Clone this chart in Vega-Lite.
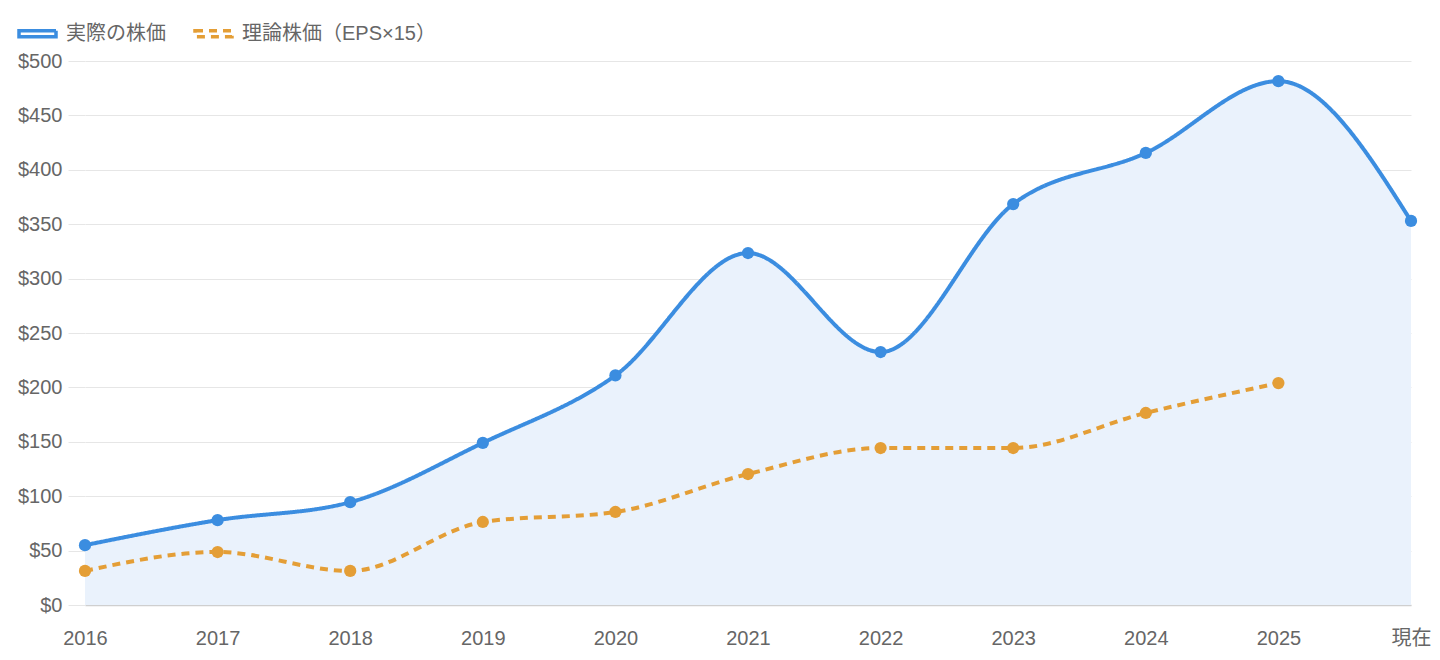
{
  "$schema": "https://vega.github.io/schema/vega-lite/v6.json",
  "width": 1326,
  "height": 544,
  "autosize": {"type": "none"},
  "padding": {"left": 85, "top": 61, "right": 29, "bottom": 55},
  "background": "white",
  "config": {
    "view": {"stroke": null},
    "font": "Liberation Sans, 'Noto Sans CJK JP'",
    "legend": {
      "orient": "none",
      "legendX": -68,
      "legendY": -48,
      "direction": "horizontal",
      "symbolType": "M-1,-0.16H1V0.16H-1Z",
      "symbolSize": 1369,
      "symbolStrokeWidth": 3.5,
      "symbolFillColor": "white",
      "labelFontSize": 20,
      "labelColor": "#666666",
      "labelFont": "Liberation Sans, 'Noto Sans CJK JP'",
      "labelLimit": 400,
      "labelOffset": 8,
      "columnPadding": 22
    }
  },
  "data": {
    "values": [
      {"year": "2016", "series": "実際の株価", "value": 55},
      {"year": "2017", "series": "実際の株価", "value": 78},
      {"year": "2018", "series": "実際の株価", "value": 94.5},
      {"year": "2019", "series": "実際の株価", "value": 149},
      {"year": "2020", "series": "実際の株価", "value": 211},
      {"year": "2021", "series": "実際の株価", "value": 323.5},
      {"year": "2022", "series": "実際の株価", "value": 232.5},
      {"year": "2023", "series": "実際の株価", "value": 368.5},
      {"year": "2024", "series": "実際の株価", "value": 415.5},
      {"year": "2025", "series": "実際の株価", "value": 481.5},
      {"year": "現在", "series": "実際の株価", "value": 353},
      {"year": "2016", "series": "理論株価（EPS×15）", "value": 31.3},
      {"year": "2017", "series": "理論株価（EPS×15）", "value": 48.7},
      {"year": "2018", "series": "理論株価（EPS×15）", "value": 31.3},
      {"year": "2019", "series": "理論株価（EPS×15）", "value": 76.3},
      {"year": "2020", "series": "理論株価（EPS×15）", "value": 85.5},
      {"year": "2021", "series": "理論株価（EPS×15）", "value": 120.4},
      {"year": "2022", "series": "理論株価（EPS×15）", "value": 144.3},
      {"year": "2023", "series": "理論株価（EPS×15）", "value": 144.3},
      {"year": "2024", "series": "理論株価（EPS×15）", "value": 176.5},
      {"year": "2025", "series": "理論株価（EPS×15）", "value": 204}
    ]
  },
  "encoding": {
    "x": {
      "field": "year",
      "type": "ordinal",
      "sort": null,
      "scale": {"type": "point", "padding": 0},
      "axis": {
        "title": null,
        "labelAngle": 0,
        "labelFontSize": 20,
        "labelColor": "#666666",
        "labelPadding": 23,
        "ticks": false,
        "grid": false,
        "domain": true,
        "domainColor": "#CFCFCF",
        "domainWidth": 1.5
      }
    },
    "y": {
      "field": "value",
      "type": "quantitative",
      "scale": {"domain": [0, 500], "nice": false},
      "axis": {
        "title": null,
        "values": [0, 50, 100, 150, 200, 250, 300, 350, 400, 450, 500],
        "labelExpr": "'$' + datum.value",
        "labelFontSize": 20,
        "labelColor": "#666666",
        "labelPadding": 6,
        "tickSize": 17,
        "tickColor": "#E6E6E6",
        "gridColor": "#E6E6E6",
        "domain": false
      }
    }
  },
  "layer": [
    {
      "transform": [{"filter": "datum.series === '実際の株価'"}],
      "mark": {"type": "area", "interpolate": "monotone", "color": "#EAF2FC", "opacity": 1}
    },
    {
      "mark": {"type": "line", "interpolate": "monotone", "strokeWidth": 4},
      "encoding": {
        "color": {
          "field": "series",
          "type": "nominal",
          "sort": null,
          "title": null,
          "scale": {"domain": ["実際の株価", "理論株価（EPS×15）"], "range": ["#3B8DE0", "#E49E36"]}
        },
        "strokeDash": {
          "field": "series",
          "type": "nominal",
          "sort": null,
          "title": null,
          "scale": {"domain": ["実際の株価", "理論株価（EPS×15）"], "range": [[1, 0], [8, 6]]}
        }
      }
    },
    {
      "mark": {"type": "point", "shape": "circle", "filled": true, "size": 150, "opacity": 1},
      "encoding": {
        "fill": {
          "condition": {"test": "datum.series === '実際の株価'", "value": "#3B8DE0"},
          "value": "#E49E36"
        }
      }
    }
  ]
}
